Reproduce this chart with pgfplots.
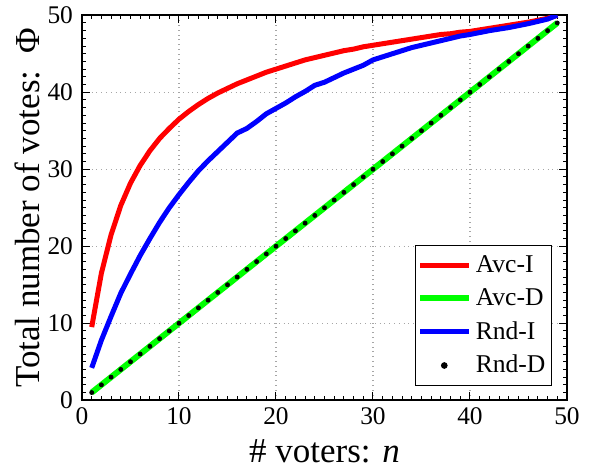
\documentclass[border=0pt]{standalone}
\usepackage{pgfplots}
\pgfplotsset{compat=1.18}
\usepackage{fontspec}
\setmainfont{Liberation Serif}

\pgfplotstableread{
n  avci  rndi
1  9.5   4.2
2  16.5  7.8
3  21.5  10.9
4  25.3  13.9
5  28.2  16.4
6  30.5  18.8
7  32.4  21.0
8  34.0  23.1
9  35.3  25.0
10 36.5  26.7
11 37.5  28.3
12 38.4  29.8
13 39.2  31.1
14 39.9  32.3
15 40.5  33.5
16 41.1  34.7
17 41.6  35.3
18 42.1  36.2
19 42.6  37.2
20 43.0  37.9
21 43.4  38.6
22 43.8  39.4
23 44.2  40.1
24 44.5  40.9
25 44.8  41.3
26 45.1  41.9
27 45.4  42.5
28 45.6  43.0
29 45.9  43.5
30 46.1  44.2
31 46.3  44.6
32 46.5  45.0
33 46.7  45.4
34 46.9  45.8
35 47.1  46.1
36 47.3  46.4
37 47.5  46.7
38 47.6  47.0
39 47.8  47.3
40 47.9  47.5
42 48.3  48.0
44 48.7  48.4
46 49.1  48.9
48 49.6  49.5
49 50.0  50.0
}\tblI

\pgfplotstableread{
n  v
1 1
2 2
3 3
4 4
5 5
6 6
7 7
8 8
9 9
10 10
11 11
12 12
13 13
14 14
15 15
16 16
17 17
18 18
19 19
20 20
21 21
22 22
23 23
24 24
25 25
26 26
27 27
28 28
29 29
30 30
31 31
32 32
33 33
34 34
35 35
36 36
37 37
38 38
39 39
40 40
41 41
42 42
43 43
44 44
45 45
46 46
47 47
48 48
49 49
}\tblD

\begin{document}
\begin{tikzpicture}
\begin{axis}[
  scale only axis,
  width=242.5pt, height=192.5pt,
  xmin=0, xmax=50, ymin=0, ymax=50,
  xtick={0,10,...,50}, ytick={0,10,...,50},
  xticklabels={0,10,20,30,40,50},
  yticklabels={0,10,20,30,40,50},
  minor tick num=9,
  tick align=inside,
  major tick length=4pt, minor tick length=2pt,
  tick style={black, line width=0.5pt},
  xmajorgrids, ymajorgrids,
  grid style={gray!70, dotted, line width=0.6pt},
  axis line style={black, line width=1pt},
  tick label style={font=\fontsize{12.7}{14}\selectfont},
  yticklabel style={xshift=-1pt},
  label style={font=\fontsize{17.5}{19}\selectfont},
  xlabel={\# voters: \textit{n}},
  ylabel={Total number of votes:\ \ Φ},
  xlabel style={at={(rel axis cs:0.5,0)}, anchor=north, yshift=-16pt},
  ylabel style={at={(rel axis cs:0,0.5)}, anchor=south, yshift=17.5pt},
  legend style={font=\fontsize{12.8}{15}\selectfont, at={(0.969,0.036)}, anchor=south east,
    draw=black, line width=0.5pt, row sep=2.5pt, inner xsep=1pt, inner ysep=3pt},
  legend cell align=left,
  legend image code/.code={\draw[#1] (0cm,0cm) -- (0.85cm,0cm);},
]
\addplot[red, line width=2.5pt] table[x=n, y=avci] {\tblI};
\addlegendentry{Avc-I}
\addplot[green, line width=3pt] table[x=n, y=v] {\tblD};
\addlegendentry{Avc-D}
\addplot[blue, line width=2.5pt] table[x=n, y=rndi] {\tblI};
\addlegendentry{Rnd-I}
\addplot[only marks, mark=*, mark size=1pt, black,
  legend image code/.code={\fill[black] (0.42cm,0cm) circle (1.4pt);}] table[x=n, y=v] {\tblD};
\addlegendentry{Rnd-D}
\coordinate (sw) at (rel axis cs:0,0);
\coordinate (ne) at (rel axis cs:1,1);
\end{axis}
\path (sw) ++(-41pt,-37.5pt) (ne) ++(12.5pt,5pt);
\end{tikzpicture}
\end{document}
